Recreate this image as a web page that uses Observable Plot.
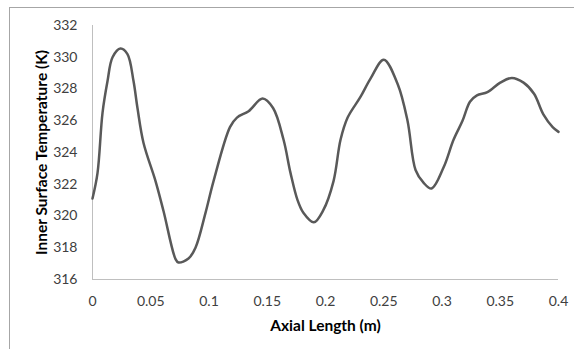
<!DOCTYPE html>
<html><head><meta charset="utf-8">
<script src="https://cdn.jsdelivr.net/npm/d3@7"></script>
<script src="https://cdn.jsdelivr.net/npm/@observablehq/plot@0.6"></script>
<style>
html,body{margin:0;padding:0;background:#fff;overflow:hidden;}
#wrap{position:relative;width:574px;height:349px;}
#border{position:absolute;left:9px;top:7px;width:600px;height:400px;border-left:1px solid #a6a6a6;border-top:1px solid #a6a6a6;pointer-events:none;}
#chart{position:absolute;left:0;top:0;}
</style></head>
<body>
<div id="wrap"><div id="chart"></div><div id="border"></div></div>
<script>
const axialLength = [0, 0.0043, 0.0086, 0.0129, 0.0172, 0.024, 0.030, 0.0352, 0.0386, 0.0438, 0.0541, 0.061, 0.0712, 0.0738, 0.0824, 0.0884, 0.097, 0.1039, 0.118, 0.124, 0.134, 0.146, 0.155, 0.164, 0.170, 0.176, 0.181, 0.190, 0.198, 0.2069, 0.2129, 0.219, 0.230, 0.239, 0.250, 0.262, 0.2704, 0.2773, 0.2841, 0.291, 0.3013, 0.3099, 0.3176, 0.324, 0.330, 0.339, 0.350, 0.360, 0.370, 0.379, 0.387, 0.395, 0.400];
const temperature = [321.1, 322.7, 326.5, 328.5, 330.0, 330.55, 330.2, 328.5, 326.8, 324.6, 322.2, 320.3, 317.3, 317.07, 317.32, 318.0, 320.2, 322.2, 325.6, 326.2, 326.6, 327.4, 326.8, 324.8, 322.7, 321.0, 320.2, 319.6, 320.35, 322.2, 324.8, 326.2, 327.5, 328.7, 329.85, 328.3, 326.0, 322.9, 322.1, 321.73, 323.05, 324.8, 326.0, 327.2, 327.6, 327.8, 328.4, 328.7, 328.4, 327.7, 326.4, 325.6, 325.3];
const xTicks = [0, 0.05, 0.1, 0.15, 0.2, 0.25, 0.3, 0.35, 0.4];
const yTicks = [316, 318, 320, 322, 324, 326, 328, 330, 332];

const data = axialLength.map((x, i) => ({x, y: temperature[i]}));

const chart = Plot.plot({
  width: 574,
  height: 349,
  marginLeft: 92,
  marginRight: 16,
  marginTop: 25,
  marginBottom: 70,
  style: {fontFamily: "Lato, 'Open Sans', sans-serif", fontSize: "14px", color: "#404040", background: "transparent"},
  x: {domain: [0, 0.4]},
  y: {domain: [316, 332]},
  marks: [
    Plot.axisX({ticks: xTicks, tickSize: 0, tickPadding: 17, tickFormat: d => String(d), label: "Axial Length (m)", labelAnchor: "center", labelArrow: "none", labelOffset: 51, fontSize: 14}),
    Plot.axisY({ticks: yTicks, tickSize: 0, tickPadding: 15, tickFormat: d => String(d), label: "Inner Surface Temperature (K)", labelAnchor: "center", labelArrow: "none", labelOffset: 57, fontSize: 14}),
    Plot.ruleX([0], {stroke: "#bfbfbf", strokeWidth: 1}),
    Plot.ruleY([316], {stroke: "#bfbfbf", strokeWidth: 1}),
    Plot.line(data, {x: "x", y: "y", curve: "catmull-rom", stroke: "#595959", strokeWidth: 2.5})
  ]
});
chart.querySelectorAll("g[aria-label='x-axis label'] text, g[aria-label='y-axis label'] text").forEach(t => {
  t.setAttribute("font-weight", "bold");
  t.setAttribute("fill", "#000");
  t.setAttribute("font-size", "15.5px");
});
document.getElementById("chart").appendChild(chart);
</script>
</body></html>
